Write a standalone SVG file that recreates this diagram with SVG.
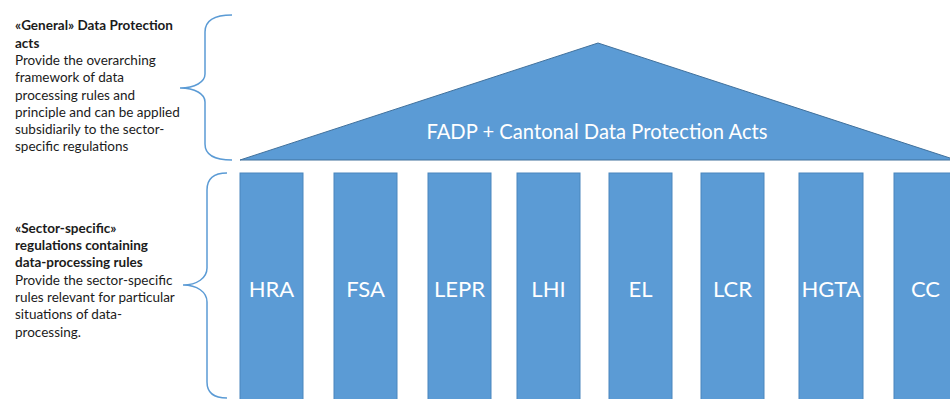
<svg xmlns="http://www.w3.org/2000/svg" width="950" height="399" viewBox="0 0 950 399">
<style>
.desc{font-family:Lato,"Open Sans","Liberation Sans",sans-serif;font-size:13.5px;fill:#1b1b1b}
.b{font-weight:bold}
.col{fill:#5B9BD5;stroke:#4A86BD;stroke-width:1}
.lbl{font-family:Lato,"Open Sans","Liberation Sans",sans-serif;font-size:22px;fill:#ffffff;text-anchor:middle}
.brace{fill:none;stroke:#5B9BD5;stroke-width:1.5}
</style>
<rect width="950" height="399" fill="#ffffff"/>
<g id="roof">
<polygon points="240,160 598,43 956,160" fill="#5B9BD5" stroke="#41719C" stroke-width="1"/>
<text x="597" y="139" class="lbl" style="font-size:20.2px">FADP + Cantonal Data Protection Acts</text>
</g>
<g id="col-hra"><rect class="col" x="240" y="173" width="63" height="230"/><text class="lbl" x="271.5" y="297">HRA</text></g>
<g id="col-fsa"><rect class="col" x="334" y="173" width="63" height="230"/><text class="lbl" x="365.5" y="297">FSA</text></g>
<g id="col-lepr"><rect class="col" x="428" y="173" width="63" height="230"/><text class="lbl" x="459.5" y="297">LEPR</text></g>
<g id="col-lhi"><rect class="col" x="517" y="173" width="63" height="230"/><text class="lbl" x="548.5" y="297">LHI</text></g>
<g id="col-el"><rect class="col" x="609" y="173" width="63" height="230"/><text class="lbl" x="640.5" y="297">EL</text></g>
<g id="col-lcr"><rect class="col" x="701" y="173" width="63" height="230"/><text class="lbl" x="732.5" y="297">LCR</text></g>
<g id="col-hgta"><rect class="col" x="799" y="173" width="64" height="230"/><text class="lbl" x="831" y="297">HGTA</text></g>
<g id="col-cc"><rect class="col" x="894" y="173" width="63" height="230"/><text class="lbl" x="925.5" y="297">CC</text></g>
<g id="connectors">
<path class="brace" d="M232,15 C215,15 205,20 205,32 L205,74 C205,82 195,88 180,88 C195,88 205,94 205,102 L205,144 C205,155 215,160 232,160"/>
<path class="brace" d="M227,173 C214,173 207,178 207,190 L207,268 C207,278 197,285 183,285 C197,285 207,292 207,302 L207,382 C207,393 214,398 227,398"/>
</g>
<g id="general-text" class="desc">
<text x="15" y="30" class="b">«General» Data Protection</text>
<text x="15" y="47.5" class="b">acts</text>
<text x="15" y="65">Provide the overarching</text>
<text x="15" y="82">framework of data</text>
<text x="15" y="99.5">processing rules and</text>
<text x="15" y="117">principle and can be applied</text>
<text x="15" y="134">subsidiarily to the sector-</text>
<text x="15" y="151">specific regulations</text>
</g>
<g id="sector-text" class="desc">
<text x="15" y="232.5" class="b">«Sector-specific»</text>
<text x="15" y="250" class="b">regulations containing</text>
<text x="15" y="267" class="b">data-processing rules</text>
<text x="15" y="284.5">Provide the sector-specific</text>
<text x="15" y="302">rules relevant for particular</text>
<text x="15" y="319">situations of data-</text>
<text x="15" y="336.5">processing.</text>
</g>
</svg>
